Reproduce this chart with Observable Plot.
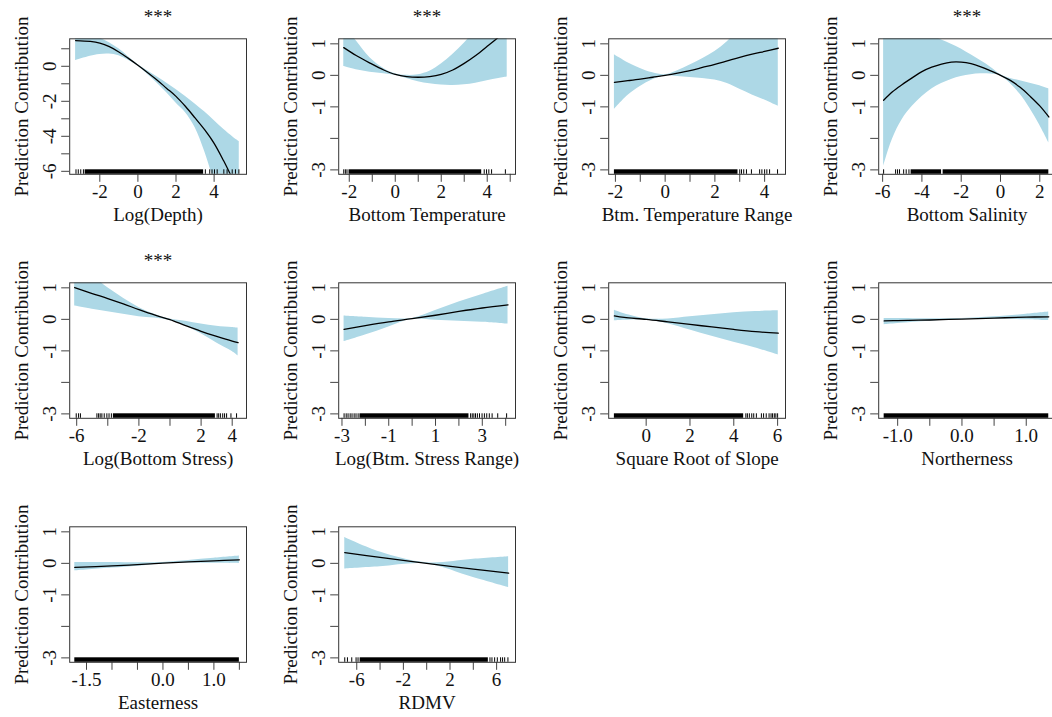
<!DOCTYPE html>
<html><head><meta charset="utf-8">
<script src="https://cdn.jsdelivr.net/npm/d3@7"></script>
<script src="https://cdn.jsdelivr.net/npm/@observablehq/plot@0.6"></script>
<style>
html,body{margin:0;padding:0;background:#fff;overflow:hidden;width:1052px;height:717px;}
#chart{position:relative;width:1052px;height:717px;overflow:hidden;}
#chart > div{position:absolute;width:266px;height:240px;}
#chart svg{max-width:none !important;width:266px;height:240px;}
</style></head><body><div id="chart"></div>
<script>
// ---------- shared text / ticks ----------
const yTitle = "Prediction Contribution";
const stdYTicks = [1, 0, -1, -2, -3];
const stdYLabels = ["1", "0", "-1", "", "-3"];
const depthYTicks = [1, 0, -1, -2, -3, -4, -5, -6];
const depthYLabels = ["", "0", "", "-2", "", "-4", "", "-6"];

// ---------- 1. Log(Depth) ----------
const depthLabel = "Log(Depth)";
const depthX   = [-3.27, -2.5, -2, -1.5, -1, -0.5, 0, 0.5, 1, 1.5, 2, 2.5, 3, 3.5, 4, 4.5, 5, 5.32];
const depthFit = [1.47, 1.42, 1.32, 1.12, 0.82, 0.45, 0.06, -0.35, -0.78, -1.25, -1.72, -2.3, -2.95, -3.62, -4.4, -5.4, -6.5, -7.2];
const depthHi  = [2.4, 2.0, 1.62, 1.35, 1.0, 0.55, 0.1, -0.25, -0.6, -0.95, -1.32, -1.72, -2.15, -2.6, -3.1, -3.6, -4.05, -4.3];
const depthLo  = [0.33, 0.58, 0.68, 0.7, 0.6, 0.35, 0.02, -0.45, -0.95, -1.5, -2.1, -2.65, -3.5, -4.85, -6.5, -7.8, -9.0, -9.8];
const depthXTicks = [-2, 0, 2, 4];
const depthXLabels = ["-2", "0", "2", "4"];
const depthRugDense = [[-2.77, 3.45]];
const depthRugTicks = [-3.25, -3.13, -3.0, -2.86, 3.54, 3.77, 3.89, 4.02, 4.16, 4.51, 4.68, 4.95, 5.12, 5.3];

// ---------- 2. Bottom Temperature ----------
const btLabel = "Bottom Temperature";
const btX   = [-2.24, -1.7, -1.1, -0.5, 0, 0.5, 1, 1.5, 2, 2.5, 3, 3.5, 4, 4.5, 4.87];
const btFit = [0.88, 0.63, 0.39, 0.17, 0.03, -0.04, -0.06, -0.04, 0.03, 0.17, 0.38, 0.63, 0.92, 1.22, 1.5];
const btHi  = [1.6, 1.1, 0.56, 0.22, 0.05, 0.0, 0.02, 0.13, 0.36, 0.66, 1.02, 1.45, 1.9, 2.4, 2.8];
const btLo  = [0.28, 0.18, 0.1, 0.05, 0.0, -0.1, -0.2, -0.27, -0.31, -0.32, -0.3, -0.25, -0.17, -0.1, -0.05];
const btXTicks = [-2, -1, 0, 1, 2, 3, 4, 5];
const btXLabels = ["-2", "", "0", "", "2", "", "4", ""];
const btRugDense = [[-2.01, 3.76]];
const btRugTicks = [-2.24, -2.17, -2.1, 3.87, 3.97, 4.07, 4.19, 4.79];

// ---------- 3. Btm. Temperature Range ----------
const btrLabel = "Btm. Temperature Range";
const btrX   = [-2.04, -1.5, -1, -0.5, 0, 0.5, 1, 1.5, 2, 2.5, 3, 3.5, 4, 4.55];
const btrFit = [-0.22, -0.17, -0.12, -0.06, 0, 0.07, 0.15, 0.25, 0.35, 0.46, 0.57, 0.67, 0.76, 0.86];
const btrHi  = [0.65, 0.4, 0.22, 0.08, 0.02, 0.15, 0.33, 0.53, 0.76, 1.07, 1.45, 1.8, 2.15, 2.6];
const btrLo  = [-1.08, -0.64, -0.35, -0.14, -0.01, -0.04, -0.07, -0.1, -0.15, -0.26, -0.44, -0.62, -0.78, -0.98];
const btrXTicks = [-2, -1, 0, 1, 2, 3, 4];
const btrXLabels = ["-2", "", "0", "", "2", "", "4"];
const btrRugDense = [[-2.04, 2.93]];
const btrRugTicks = [3.0, 3.07, 3.16, 3.27, 3.47, 3.8, 3.89, 4.0, 4.09, 4.2, 4.52];

// ---------- 4. Bottom Salinity ----------
const bsLabel = "Bottom Salinity";
const bsX   = [-5.95, -5.5, -5, -4.5, -4, -3.5, -3, -2.5, -2, -1.5, -1, -0.5, 0, 0.5, 1, 1.5, 2, 2.46];
const bsFit = [-0.79, -0.52, -0.29, -0.08, 0.12, 0.26, 0.36, 0.42, 0.42, 0.37, 0.27, 0.14, 0, -0.16, -0.38, -0.66, -0.97, -1.32];
const bsHi  = [3.3, 2.85, 2.4, 2.0, 1.65, 1.3, 1.12, 0.99, 0.84, 0.65, 0.46, 0.26, 0.03, -0.1, -0.17, -0.25, -0.33, -0.43];
const bsLo  = [-2.9, -2.03, -1.4, -0.99, -0.68, -0.43, -0.26, -0.13, -0.04, 0.02, 0.05, 0.04, -0.01, -0.26, -0.6, -1.05, -1.58, -2.14];
const bsXTicks = [-6, -4, -2, 0, 2];
const bsXLabels = ["-6", "-4", "-2", "0", "2"];
const bsRugDense = [[-4.55, -3.0], [-2.92, 2.46]];
const bsRugTicks = [-5.95, -5.34, -5.24, -5.14, -4.93, -4.8, -4.66];

// ---------- 5. Log(Bottom Stress) ----------
const bstLabel = "Log(Bottom Stress)";
const bstX   = [-6.13, -5, -4, -3, -2, -1, 0, 1, 2, 3, 4, 4.38];
const bstFit = [1.01, 0.82, 0.66, 0.49, 0.31, 0.14, -0.01, -0.2, -0.38, -0.54, -0.69, -0.74];
const bstHi  = [1.6, 1.37, 1.0, 0.67, 0.38, 0.16, 0.01, -0.06, -0.15, -0.22, -0.26, -0.28];
const bstLo  = [0.42, 0.32, 0.24, 0.16, 0.08, 0.04, -0.04, -0.21, -0.46, -0.75, -1.02, -1.16];
const bstXTicks = [-6, -4, -2, 0, 2, 4];
const bstXLabels = ["-6", "", "-2", "", "2", "4"];
const bstRugDense = [[-3.64, 2.92]];
const bstRugTicks = [-6.03, -5.88, -5.76, -4.7, -4.59, -4.49, -4.38, -4.23, -4.06, -3.92, -3.77, 3.03, 3.13, 3.24, 3.39, 3.51, 3.64, 3.92, 4.28];

// ---------- 6. Log(Btm. Stress Range) ----------
const bsrLabel = "Log(Btm. Stress Range)";
const bsrX   = [-2.91, -2, -1, 0, 1, 2, 3, 4.1];
const bsrFit = [-0.32, -0.2, -0.08, 0.02, 0.13, 0.25, 0.36, 0.46];
const bsrHi  = [0.11, 0.07, 0.03, 0.03, 0.28, 0.55, 0.79, 1.05];
const bsrLo  = [-0.71, -0.5, -0.24, 0.0, -0.03, -0.06, -0.09, -0.15];
const bsrXTicks = [-3, -2, -1, 0, 1, 2, 3, 4];
const bsrXLabels = ["-3", "", "-1", "", "1", "", "3", ""];
const bsrRugDense = [[-2.23, 2.43]];
const bsrRugTicks = [-2.91, -2.82, -2.74, -2.65, -2.57, -2.48, -2.4, -2.31, 2.5, 2.57, 2.64, 2.71, 2.79, 2.88, 2.99, 3.09, 3.19, 3.3, 3.42, 3.66, 4.04];

// ---------- 7. Square Root of Slope ----------
const slLabel = "Square Root of Slope";
const slX   = [-1.45, -1, 0, 1, 2, 3, 4, 5, 6.03];
const slFit = [0.11, 0.06, 0, -0.08, -0.16, -0.24, -0.32, -0.39, -0.44];
const slHi  = [0.29, 0.18, 0.02, 0.01, 0.08, 0.15, 0.21, 0.25, 0.27];
const slLo  = [-0.05, -0.03, -0.02, -0.14, -0.34, -0.54, -0.73, -0.91, -1.13];
const slXTicks = [0, 2, 4, 6];
const slXLabels = ["0", "2", "4", "6"];
const slRugDense = [[-1.45, 4.45]];
const slRugTicks = [4.55, 4.62, 4.71, 4.82, 4.91, 5.03, 5.26, 5.36, 5.48, 5.61, 5.7, 5.77, 5.85, 5.92, 6.0];

// ---------- 8. Northerness ----------
const noLabel = "Northerness";
const noX   = [-1.21, -1, -0.5, 0, 0.5, 1, 1.35];
const noFit = [-0.05, -0.04, -0.02, 0.01, 0.04, 0.07, 0.08];
const noHi  = [0.03, 0.03, 0.02, 0.03, 0.08, 0.16, 0.23];
const noLo  = [-0.17, -0.13, -0.06, 0.0, 0.01, -0.01, -0.04];
const noXTicks = [-1, -0.5, 0, 0.5, 1];
const noXLabels = ["-1.0", "", "0.0", "", "1.0"];
const noRugDense = [[-1.21, 1.35]];
const noRugTicks = [];

// ---------- 9. Easterness ----------
const eaLabel = "Easterness";
const eaX   = [-1.73, -1, -0.5, 0, 0.5, 1, 1.5];
const eaFit = [-0.13, -0.08, -0.04, 0.01, 0.05, 0.08, 0.11];
const eaHi  = [0.03, 0.03, 0.02, 0.03, 0.09, 0.16, 0.23];
const eaLo  = [-0.24, -0.15, -0.09, -0.01, 0.01, 0.0, -0.01];
const eaXTicks = [-1.5, -1, -0.5, 0, 0.5, 1, 1.5];
const eaXLabels = ["-1.5", "", "", "0.0", "", "1.0", ""];
const eaRugDense = [[-1.73, 1.5]];
const eaRugTicks = [];

// ---------- 10. RDMV ----------
const rdLabel = "RDMV";
const rdX   = [-7.03, -4, 0, 4, 7.03];
const rdFit = [0.34, 0.19, 0, -0.18, -0.31];
const rdHi  = [0.82, 0.36, 0.02, 0.13, 0.21];
const rdLo  = [-0.18, -0.11, -0.02, -0.45, -0.77];
const rdXTicks = [-6, -4, -2, 0, 2, 4, 6];
const rdXLabels = ["-6", "", "-2", "", "2", "", "6"];
const rdRugDense = [[-5.71, 5.29]];
const rdRugTicks = [-7.03, -6.8, -6.43, -6.06, -5.89, 5.43, 5.6, 5.83, 6.06, 6.34, 6.51, 6.69, 6.97];

// ---------- layout ----------
const FONT = "'Liberation Serif','Times New Roman',Times,serif";
const colX = [0, 269.3, 539.3, 809.3];
const rowY = [0, 244.4, 488.4];
const W = 266, H = 240, ML = 69.2, MR = 20, MT = 38.3, IH = 135.5;
const stdY = [-3.14, 1.16];

const panels = [
  {label: depthLabel, stars: "***", x: depthX, fit: depthFit, hi: depthHi, lo: depthLo, xTicks: depthXTicks, xLabels: depthXLabels, yTicks: depthYTicks, yLabels: depthYLabels, dense: depthRugDense, ticks: depthRugTicks, xDomain: [-3.58, 5.7], yDomain: [-6.17, 1.57]},
  {label: btLabel, stars: "***", x: btX, fit: btFit, hi: btHi, lo: btLo, xTicks: btXTicks, xLabels: btXLabels, yTicks: stdYTicks, yLabels: stdYLabels, dense: btRugDense, ticks: btRugTicks, xDomain: [-2.46, 5.23], yDomain: stdY},
  {label: btrLabel, stars: null, x: btrX, fit: btrFit, hi: btrHi, lo: btrLo, xTicks: btrXTicks, xLabels: btrXLabels, yTicks: stdYTicks, yLabels: stdYLabels, dense: btrRugDense, ticks: btrRugTicks, xDomain: [-2.27, 4.84], yDomain: stdY},
  {label: bsLabel, stars: "***", x: bsX, fit: bsFit, hi: bsHi, lo: bsLo, xTicks: bsXTicks, xLabels: bsXLabels, yTicks: stdYTicks, yLabels: stdYLabels, dense: bsRugDense, ticks: bsRugTicks, xDomain: [-6.2, 2.8], yDomain: stdY},
  {label: bstLabel, stars: "***", x: bstX, fit: bstFit, hi: bstHi, lo: bstLo, xTicks: bstXTicks, xLabels: bstXLabels, yTicks: stdYTicks, yLabels: stdYLabels, dense: bstRugDense, ticks: bstRugTicks, xDomain: [-6.45, 4.92], yDomain: stdY},
  {label: bsrLabel, stars: null, x: bsrX, fit: bsrFit, hi: bsrHi, lo: bsrLo, xTicks: bsrXTicks, xLabels: bsrXLabels, yTicks: stdYTicks, yLabels: stdYLabels, dense: bsrRugDense, ticks: bsrRugTicks, xDomain: [-3.14, 4.42], yDomain: stdY},
  {label: slLabel, stars: null, x: slX, fit: slFit, hi: slHi, lo: slLo, xTicks: slXTicks, xLabels: slXLabels, yTicks: stdYTicks, yLabels: stdYLabels, dense: slRugDense, ticks: slRugTicks, xDomain: [-1.71, 6.36], yDomain: stdY},
  {label: noLabel, stars: null, x: noX, fit: noFit, hi: noHi, lo: noLo, xTicks: noXTicks, xLabels: noXLabels, yTicks: stdYTicks, yLabels: stdYLabels, dense: noRugDense, ticks: noRugTicks, xDomain: [-1.295, 1.455], yDomain: stdY},
  {label: eaLabel, stars: null, x: eaX, fit: eaFit, hi: eaHi, lo: eaLo, xTicks: eaXTicks, xLabels: eaXLabels, yTicks: stdYTicks, yLabels: stdYLabels, dense: eaRugDense, ticks: eaRugTicks, xDomain: [-1.83, 1.64], yDomain: stdY},
  {label: rdLabel, stars: null, x: rdX, fit: rdFit, hi: rdHi, lo: rdLo, xTicks: rdXTicks, xLabels: rdXLabels, yTicks: stdYTicks, yLabels: stdYLabels, dense: rdRugDense, ticks: rdRugTicks, xDomain: [-7.55, 7.62], yDomain: stdY}
];

function makePanel(p) {
  const data = p.x.map((x, i) => ({x, fit: p.fit[i], lo: p.lo[i], hi: p.hi[i]}));
  const fx = new Map(p.xTicks.map((t, i) => [t, p.xLabels[i]]));
  const fy = new Map(p.yTicks.map((t, i) => [t, p.yLabels[i]]));
  const marks = [
    Plot.areaY(data, {x: "x", y1: "lo", y2: "hi", fill: "#add8e6", curve: "catmull-rom", clip: true}),
    Plot.line(data, {x: "x", y: "fit", stroke: "#000", strokeWidth: 1.3, curve: "catmull-rom", clip: true}),
    Plot.rect(p.dense, {x1: d => d[0], x2: d => d[1], fill: "#000", insetTop: IH - 4.5}),
    Plot.ruleX(p.ticks, {x: d => d, stroke: "#000", strokeWidth: 1, insetTop: IH - 4.5}),
    Plot.axisX({ticks: p.xTicks, tickFormat: d => fx.get(d) ?? "", tickSize: 8, tickPadding: 2, label: null, fontSize: 19, stroke: "#444"}),
    Plot.axisY({ticks: p.yTicks, tickFormat: d => fy.get(d) ?? "", tickSize: 8, tickPadding: 6, tickRotate: -90, label: null, fontSize: 19, stroke: "#444"}),
    Plot.frame({stroke: "#333", strokeWidth: 1}),
    Plot.text([p.label], {text: d => d, frameAnchor: "bottom", dy: 40.2, textAnchor: "middle", lineAnchor: "middle", fontSize: 19, fill: "#111"}),
    Plot.text([yTitle], {text: d => d, frameAnchor: "left", dx: -48, rotate: -90, textAnchor: "middle", lineAnchor: "middle", fontSize: 19, fill: "#111"})
  ];
  if (p.stars) marks.push(Plot.text([p.stars], {text: d => d, frameAnchor: "top", dy: -15.5, textAnchor: "middle", lineAnchor: "bottom", fontSize: 19, fill: "#111"}));
  return Plot.plot({
    width: W, height: H,
    marginLeft: ML, marginRight: MR, marginTop: MT, marginBottom: H - MT - IH,
    x: {domain: p.xDomain},
    y: {domain: p.yDomain},
    style: {fontFamily: FONT, fontSize: "19px", color: "#111", background: "transparent", overflow: "visible", maxWidth: "none"},
    marks
  });
}

const chart = document.getElementById("chart");
panels.forEach((p, i) => {
  const el = makePanel(p);
  const wrap = document.createElement("div");
  wrap.style.left = colX[i % 4] + "px";
  wrap.style.top = rowY[Math.floor(i / 4)] + "px";
  wrap.appendChild(el);
  chart.appendChild(wrap);
});
</script></body></html>
